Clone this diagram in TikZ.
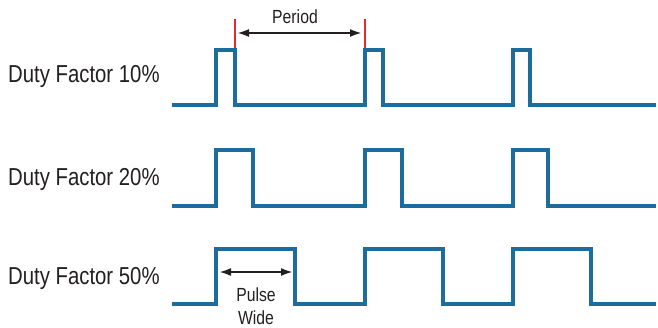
\documentclass[tikz,border=0pt]{standalone}
\usepackage{fontspec}
\setmainfont{Liberation Sans}[FakeStretch=0.83]
\usetikzlibrary{arrows.meta}
\definecolor{wave}{RGB}{29,108,158}
\definecolor{mark}{RGB}{232,38,43}
\definecolor{ink}{RGB}{35,31,32}
\begin{document}
\begin{tikzpicture}[x=1pt,y=-1pt,
  wavepath/.style={draw=wave,line width=4pt,line join=miter},
  rowlabel/.style={anchor=west,inner sep=0pt,font=\fontsize{24.5}{26}\selectfont,text=ink},
  smalltext/.style={inner sep=0pt,font=\fontsize{19}{22.5}\selectfont,text=ink,align=center},
  dimarrow/.style={draw=ink,line width=2.2pt,{Latex[length=12pt,width=8pt]}-{Latex[length=12pt,width=8pt]}},
  redtick/.style={draw=mark,line width=2pt}]
\useasboundingbox (0,0) rectangle (658,327);
% labels
\node[rowlabel] (l1) at (8,76) {Duty Factor 10\%};
\node[rowlabel] (l2) at (8,179) {Duty Factor 20\%};
\node[rowlabel] (l3) at (8,278) {Duty Factor 50\%};
% waveforms
\draw[wavepath] (172,105) -- (216,105) -- (216,50) -- (234.5,50) -- (234.5,105) -- (365,105) -- (365,50) -- (383,50) -- (383,105) -- (513,105) -- (513,50) -- (530,50) -- (530,105) -- (656,105);
\draw[wavepath] (172,206) -- (216,206) -- (216,150) -- (253,150) -- (253,206) -- (365,206) -- (365,150) -- (402,150) -- (402,206) -- (513,206) -- (513,150) -- (548,150) -- (548,206) -- (656,206);
\draw[wavepath] (172,304) -- (216,304) -- (216,249) -- (295,249) -- (295,304) -- (365,304) -- (365,249) -- (443,249) -- (443,304) -- (513,304) -- (513,249) -- (591,249) -- (591,304) -- (656,304);
% period marks
\coordinate (r1t) at (234.5,19);
\coordinate (r1b) at (234.5,48);
\coordinate (r2t) at (364.5,19);
\coordinate (r2b) at (364.5,48);
\draw[redtick] (r1t) -- (r1b);
\draw[redtick] (r2t) -- (r2b);
\coordinate (pa) at (237,33);
\coordinate (pb) at (362,33);
\draw[dimarrow] (pa) -- (pb);
\node[smalltext] (period) at (295,17) {Period};
% pulse wide
\coordinate (wa) at (219,272);
\coordinate (wb) at (293,272);
\draw[dimarrow] (wa) -- (wb);
\node[smalltext] (pw) at (256,306) {Pulse\\Wide};
\end{tikzpicture}
\end{document}
